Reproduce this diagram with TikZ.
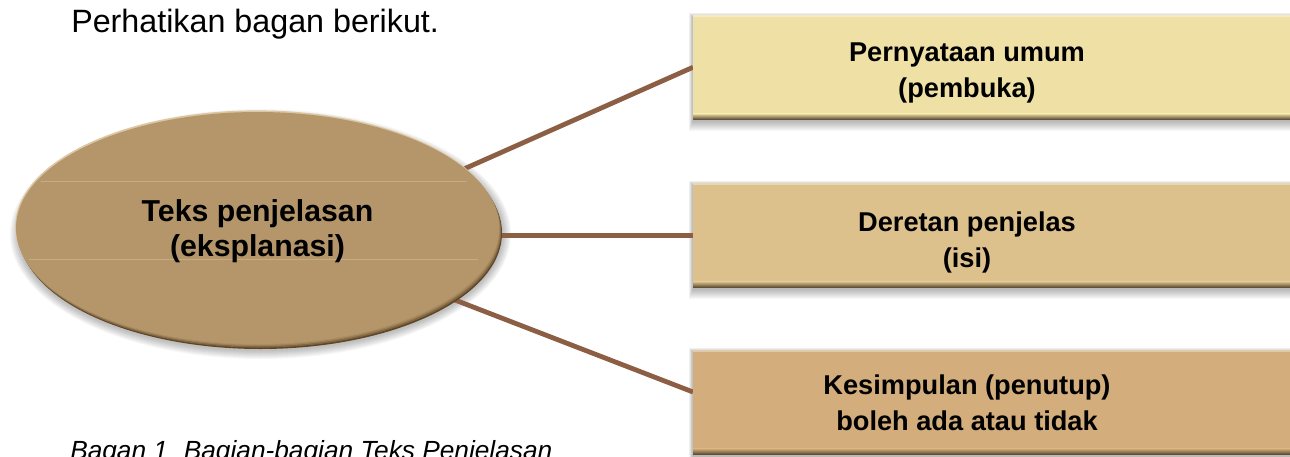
\documentclass[tikz,border=0pt]{standalone}
\usepackage{fontspec}
\setmainfont{Liberation Sans}
\usetikzlibrary{calc,shapes.geometric}

\definecolor{ovalfill}{HTML}{B4966A}
\definecolor{ovaldark}{HTML}{5E4526}
\definecolor{ovallight}{HTML}{DCC7A2}
\definecolor{linkbrown}{HTML}{8C5F45}
\definecolor{boxA}{HTML}{EFE1A6}
\definecolor{boxB}{HTML}{DCC18D}
\definecolor{boxC}{HTML}{D3AD7B}
\definecolor{edgedark}{HTML}{54462A}

\pgfdeclarelayer{background}
\pgfsetlayers{background,main}

\tikzset{
  partbox/.style={rectangle, inner sep=0pt, minimum width=455pt, minimum height=78pt, anchor=north west},
  boxtext/.style={font=\bfseries\fontsize{20.4}{27}\selectfont, align=center, inner sep=0pt},
  oval/.style={ellipse, inner sep=0pt, minimum width=362.25pt, minimum height=174pt,
    font=\bfseries\fontsize{22.7}{26.25}\selectfont, align=center},
  link/.style={draw=linkbrown, line width=3.6pt},
  heading/.style={font=\fontsize{24.2}{28}\selectfont, anchor=base west, inner sep=0pt},
  caption/.style={font=\itshape\fontsize{19.7}{24}\selectfont, anchor=base west, inner sep=0pt},
  softshade/.style={black, opacity=0.03},
  scanline/.style={draw=ovallight, line width=0.75pt, opacity=0.45},
}

\begin{document}
\begin{tikzpicture}[x=0.75pt,y=-0.75pt]
\useasboundingbox (0,0) rectangle (1290,457);

% heading and caption
\node[heading] (title) at (71,32) {Perhatikan bagan berikut.};
\node[caption] (cap) at (70,459) {Bagan 1\hspace{0.6em}Bagian-bagian Teks Penjelasan};

% central oval (text only, its fill lives on the background layer)
\node[oval] (e) at (257.5,228) {\rule{0pt}{21.75pt}Teks penjelasan\\(eksplanasi)};

% the three part boxes
\node[partbox, fill=boxA] (b1) at (693,15) {};
\node[partbox, fill=boxB] (b2) at (693,183) {};
\node[partbox, fill=boxC] (b3) at (693,350) {};

% bevelled bottom and top edges of the boxes
\foreach \b/\c in {b1/boxA,b2/boxB,b3/boxC}{
  \shade[top color=\c, bottom color=edgedark] ($(\b.south west)+(0,-6)$) rectangle (\b.south east);
  \fill[white, opacity=0.35] (\b.north west) rectangle ($(\b.north east)+(0,1.5)$);
}

% box captions
\node[boxtext] (t1) at (967,73) {Pernyataan umum\\(pembuka)};
\node[boxtext] (t2) at (967,242) {Deretan penjelas\\(isi)};
\node[boxtext] (t3) at (967,403) {Kesimpulan (penutup)\\boleh ada atau tidak};

\coordinate (b3in) at ($(b3.north west)+(0,42)$);

\begin{pgfonlayer}{background}
  % soft shadows of the boxes
  \foreach \b in {b1,b2,b3}{
    \foreach \i in {1,...,10}{
      \fill[softshade] ($(\b.north west)+(-0.4*\i,2-0.4*\i)$) rectangle ($(\b.south east)+(0.4*\i,1+1.0*\i)$);
    }
  }
  % soft shadow of the oval
  \foreach \i in {1,...,9}{
    \fill[softshade] ($(e.center)+(3,6)$) ellipse [x radius={241.5+\i}, y radius={116+\i}];
  }
  % connectors
  \draw[link] (e.16) -- (b1.west);
  \draw[link] (b2.west -| e.east) -- (b2.west);
  \draw[link] (e.-20) -- (b3in);
  % bevelled oval
  \fill[ovallight] ($(e.center)+(-0.8,-1.6)$) ellipse [x radius=241.5, y radius=116];
  \fill[ovaldark] ($(e.center)+(3,5)$) ellipse [x radius=241.5, y radius=116];
  \fill[ovalfill!40!ovaldark] ($(e.center)+(2.2,3.6)$) ellipse [x radius=241.5, y radius=116];
  \fill[ovalfill!70!ovaldark] ($(e.center)+(1.4,2.2)$) ellipse [x radius=241.5, y radius=116];
  \fill[ovalfill!90!ovaldark] ($(e.center)+(0.6,1)$) ellipse [x radius=241.5, y radius=116];
  \fill[ovalfill] (e.center) ellipse [x radius=241.5, y radius=116];
  % faint horizontal streaks across the oval
  \begin{scope}
    \clip ($(e.center)+(-4,0)$) ellipse [x radius=234, y radius=112];
    \draw[scanline] (0,181) -- (520,181);
    \draw[scanline] (0,259) -- (520,259);
  \end{scope}
\end{pgfonlayer}
\end{tikzpicture}
\end{document}
